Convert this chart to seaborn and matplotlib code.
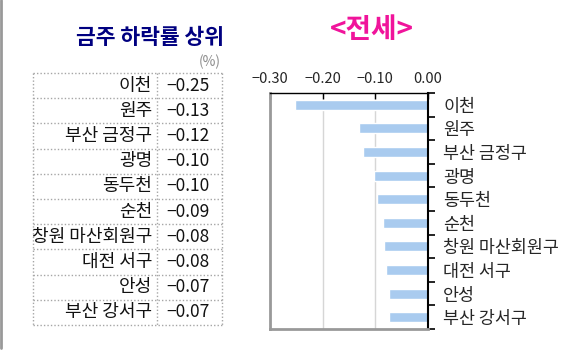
import matplotlib
matplotlib.use('Agg')
import matplotlib.pyplot as plt
import matplotlib.ticker as mticker
from matplotlib.lines import Line2D
import pandas as pd
import seaborn as sns

regions = ['이천', '원주', '부산 금정구', '광명', '동두천', '순천',
           '창원 마산회원구', '대전 서구', '안성', '부산 강서구']
change = [-0.252, -0.131, -0.124, -0.102, -0.097, -0.086, -0.083, -0.080, -0.074, -0.074]
xticks = [-0.30, -0.20, -0.10, 0.00]

if __name__ == "__main__":
    sns.set_style('white')
    plt.rcParams['font.family'] = ['Noto Sans CJK KR', 'DejaVu Sans']

    df = pd.DataFrame({'region': regions, 'change': change})

    fig = plt.figure(figsize=(5.69, 3.52), dpi=100)

    # bar chart on the right
    ax = fig.add_axes([270 / 569, 1 - 329 / 352, 158 / 569, 236 / 352])
    sns.barplot(data=df, x='change', y='region', orient='h', color='#a9cbef',
                saturation=1, width=0.42, ax=ax)
    ax.set_xlim(-0.30, 0.0)
    ax.set_xlabel('')
    ax.set_ylabel('')
    ax.set_xticks(xticks)
    ax.xaxis.set_major_formatter(mticker.FuncFormatter(lambda v, p: f'{v:.2f}'.replace('-', '\u2212')))
    ax.xaxis.tick_top()
    ax.tick_params(axis='x', direction='in', length=4, width=1, color='black',
                   labelsize=10.5, pad=5)
    ax.yaxis.tick_right()
    ax.tick_params(axis='y', which='major', length=0, labelsize=12.5, pad=11)
    ax.set_yticks([i - 0.5 for i in range(len(regions) + 1)], minor=True)
    ax.tick_params(axis='y', which='minor', direction='out', length=5, width=1.2, color='black')
    for lbl in ax.get_yticklabels():
        lbl.set_horizontalalignment('left')
    ax.grid(axis='x', color='#d6d6d6', linewidth=1)
    ax.grid(axis='y', visible=False)
    ax.set_axisbelow(True)
    ax.spines['left'].set_color('#999999')
    ax.spines['left'].set_linewidth(2)
    ax.spines['bottom'].set_color('#999999')
    ax.spines['bottom'].set_linewidth(2)
    ax.spines['top'].set_color('black')
    ax.spines['top'].set_linewidth(1)
    ax.spines['right'].set_color('black')
    ax.spines['right'].set_linewidth(1.5)

    # table on the left
    tax = fig.add_axes([33 / 569, 1 - 325 / 352, 189 / 569, 252 / 352])
    tax.set_xlim(0, 1)
    tax.set_ylim(len(regions), 0)
    tax.axis('off')
    dotted = dict(color='#a6a6a6', linestyle=(0, (1, 1.5)), linewidth=1, clip_on=False)
    tax.hlines(range(len(regions) + 1), 0, 1, **dotted)
    tax.vlines([0, 0.656, 1], 0, len(regions), **dotted)
    for i, (name, val) in enumerate(zip(regions, change)):
        t = tax.text(0.63, i + 0.5, name, ha='right', va='center', fontsize=13,
                     color='#111111', clip_on=True)
        t.set_clip_box(tax.bbox)
        tax.text(0.705, i + 0.5, f'{val:.2f}'.replace('-', '\u2212'), ha='left',
                 va='center', fontsize=12.5, color='#111111')

    # titles
    fig.text(224 / 569, 1 - 37 / 352, '금주 하락률 상위', ha='right', va='center',
             fontsize=15.5, fontweight='bold', color='#000080')
    fig.text(221 / 569, 1 - 62 / 352, '(%)', ha='right', va='center',
             fontsize=10, color='#8c8c8c')
    fig.text(372 / 569, 1 - 30 / 352, '<전세>', ha='center', va='center',
             fontsize=20, fontweight='bold', color='#f0149b')

    fig.add_artist(Line2D([0.002, 0.002], [0.01, 1], transform=fig.transFigure,
                          color='#999999', linewidth=2))

    fig.savefig('out.png', dpi=100)
